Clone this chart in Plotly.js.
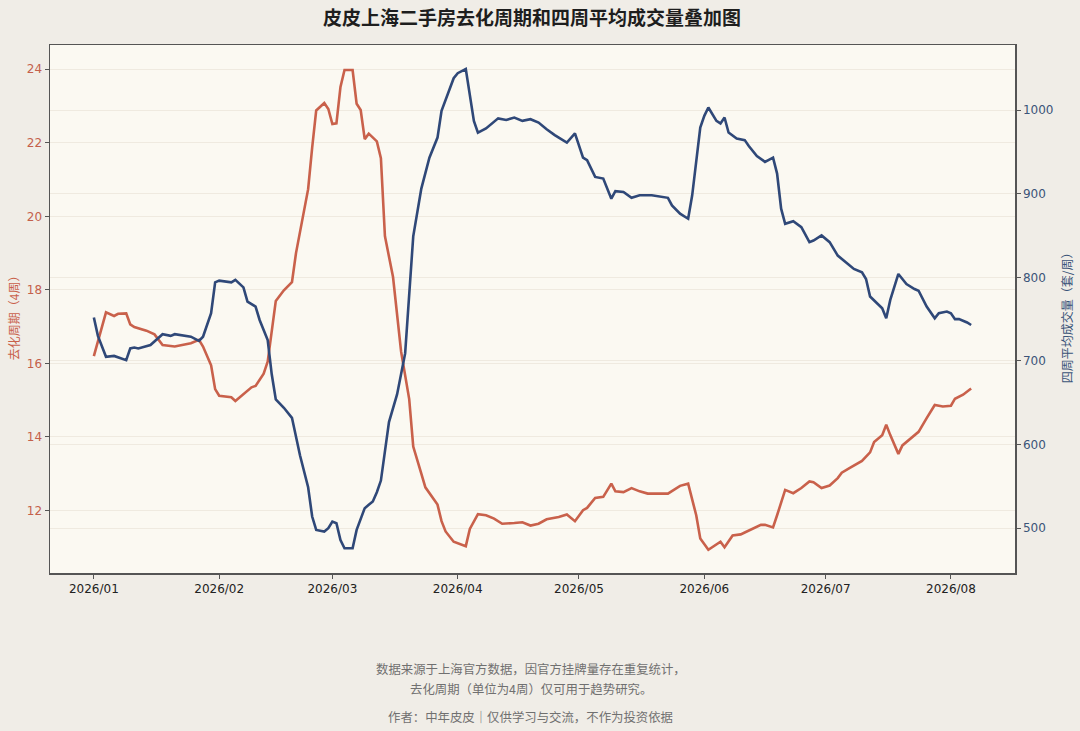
<!DOCTYPE html>
<html>
<head>
<meta charset="utf-8">
<script src="https://cdn.plot.ly/plotly-3.0.1.min.js"></script>
<style>
  html, body { margin: 0; padding: 0; background: #f0ede7; }
  #chart { width: 1080px; height: 731px; }
</style>
</head>
<body>
<div id="chart"></div>
<script>
// 去化周期（4周）
const cycleDates = [
  '2026-01-01','2026-01-04','2026-01-06','2026-01-07','2026-01-09','2026-01-10','2026-01-11','2026-01-14',
  '2026-01-16','2026-01-18','2026-01-21','2026-01-25','2026-01-27','2026-01-28','2026-01-30','2026-01-31',
  '2026-02-01','2026-02-04','2026-02-05','2026-02-07','2026-02-09','2026-02-10','2026-02-12','2026-02-13',
  '2026-02-14','2026-02-15','2026-02-17','2026-02-19','2026-02-20','2026-02-23','2026-02-24','2026-02-25',
  '2026-02-27','2026-02-28','2026-03-01','2026-03-02','2026-03-03','2026-03-04','2026-03-06','2026-03-07',
  '2026-03-08','2026-03-09','2026-03-10','2026-03-12','2026-03-13','2026-03-14','2026-03-16','2026-03-17',
  '2026-03-18','2026-03-20','2026-03-21','2026-03-23','2026-03-24','2026-03-27','2026-03-28','2026-03-29',
  '2026-03-31','2026-04-03','2026-04-04','2026-04-06','2026-04-08','2026-04-10','2026-04-12','2026-04-15',
  '2026-04-17','2026-04-19','2026-04-21','2026-04-23','2026-04-26','2026-04-28','2026-04-30','2026-05-02',
  '2026-05-03','2026-05-05','2026-05-07','2026-05-09','2026-05-10','2026-05-12','2026-05-14','2026-05-16',
  '2026-05-18','2026-05-23','2026-05-26','2026-05-28','2026-05-30','2026-05-31','2026-06-02','2026-06-05',
  '2026-06-06','2026-06-08','2026-06-10','2026-06-11','2026-06-13','2026-06-15','2026-06-16','2026-06-18',
  '2026-06-19','2026-06-21','2026-06-23','2026-06-25','2026-06-27','2026-06-28','2026-06-30','2026-07-02',
  '2026-07-04','2026-07-05','2026-07-07','2026-07-10','2026-07-12','2026-07-13','2026-07-15','2026-07-16',
  '2026-07-17','2026-07-19','2026-07-20','2026-07-22','2026-07-24','2026-07-26','2026-07-28','2026-07-30',
  '2026-08-01','2026-08-02','2026-08-04','2026-08-06'
];
const cycleValues = [
  16.2, 17.39, 17.29, 17.35, 17.36, 17.06, 16.99, 16.89,
  16.79, 16.5, 16.46, 16.55, 16.64, 16.46, 15.95, 15.3,
  15.12, 15.08, 14.98, 15.16, 15.35, 15.39, 15.72, 16.05,
  16.88, 17.7, 17.99, 18.21, 19.0, 20.74, 21.87, 22.88,
  23.08, 22.92, 22.51, 22.53, 23.52, 23.98, 23.98, 23.06,
  22.89, 22.1, 22.25, 22.04, 21.58, 19.46, 18.35, 17.33,
  16.32, 15.03, 13.74, 13.0, 12.63, 12.16, 11.71, 11.43,
  11.15, 11.03, 11.5, 11.9, 11.87, 11.78, 11.64, 11.66,
  11.68, 11.59, 11.64, 11.76, 11.82, 11.89, 11.71, 12.01,
  12.07, 12.34, 12.37, 12.73, 12.52, 12.5, 12.61, 12.52,
  12.46, 12.46, 12.67, 12.73, 11.87, 11.24, 10.93, 11.15,
  11.0, 11.32, 11.35, 11.4, 11.5, 11.61, 11.61, 11.54,
  11.87, 12.56, 12.47, 12.61, 12.79, 12.77, 12.61, 12.68,
  12.88, 13.03, 13.16, 13.35, 13.58, 13.86, 14.05, 14.33,
  14.05, 13.54, 13.77, 13.95, 14.14, 14.51, 14.87, 14.83,
  14.85, 15.04, 15.15, 15.32
];

// 四周平均成交量（套/周）
const volumeDates = [
  '2026-01-01','2026-01-02','2026-01-04','2026-01-06','2026-01-09','2026-01-10','2026-01-11','2026-01-12',
  '2026-01-15','2026-01-16','2026-01-18','2026-01-20','2026-01-21','2026-01-25','2026-01-27','2026-01-28',
  '2026-01-30','2026-01-31','2026-02-01','2026-02-04','2026-02-05','2026-02-07','2026-02-08','2026-02-10',
  '2026-02-11','2026-02-13','2026-02-14','2026-02-15','2026-02-17','2026-02-19','2026-02-21','2026-02-23',
  '2026-02-24','2026-02-25','2026-02-27','2026-02-28','2026-03-01','2026-03-02','2026-03-03','2026-03-04',
  '2026-03-06','2026-03-07','2026-03-09','2026-03-10','2026-03-11','2026-03-12','2026-03-13','2026-03-15',
  '2026-03-17','2026-03-19','2026-03-20','2026-03-21','2026-03-23','2026-03-25','2026-03-27','2026-03-28',
  '2026-03-31','2026-04-01','2026-04-03','2026-04-05','2026-04-06','2026-04-08','2026-04-11','2026-04-13',
  '2026-04-15','2026-04-17','2026-04-19','2026-04-21','2026-04-23','2026-04-25','2026-04-28','2026-04-30',
  '2026-05-02','2026-05-03','2026-05-05','2026-05-07','2026-05-09','2026-05-10','2026-05-12','2026-05-14',
  '2026-05-16','2026-05-19','2026-05-23','2026-05-24','2026-05-26','2026-05-28','2026-05-29','2026-05-31',
  '2026-06-01','2026-06-02','2026-06-04','2026-06-05','2026-06-06','2026-06-07','2026-06-09','2026-06-11',
  '2026-06-12','2026-06-14','2026-06-16','2026-06-18','2026-06-19','2026-06-20','2026-06-21','2026-06-23',
  '2026-06-25','2026-06-27','2026-06-28','2026-06-30','2026-07-02','2026-07-04','2026-07-06','2026-07-08',
  '2026-07-10','2026-07-11','2026-07-12','2026-07-15','2026-07-16','2026-07-17','2026-07-19','2026-07-21',
  '2026-07-23','2026-07-24','2026-07-26','2026-07-28','2026-07-29','2026-07-31','2026-08-01','2026-08-02',
  '2026-08-03','2026-08-05','2026-08-06'
];
const volumeValues = [
  752, 730, 705, 706, 701, 715, 716, 715,
  719, 723, 732, 730, 732, 729, 724, 729,
  757, 794, 796, 794, 797, 788, 771, 765,
  749, 725, 684, 654, 644, 632, 587, 549,
  514, 498, 496, 500, 508, 506, 486, 476,
  476, 498, 524, 528, 532, 543, 557, 627,
  660, 709, 777, 849, 906, 943, 967, 999,
  1038, 1044, 1049, 987, 973, 978, 990, 988,
  991, 987, 989, 985, 977, 970, 961, 972,
  943, 940, 920, 918, 894, 903, 902, 895,
  898, 898, 895, 886, 876, 870, 898, 979,
  993, 1003, 987, 984, 991, 973, 966, 964,
  957, 945, 938, 943, 924, 882, 864, 867,
  860, 842, 844, 850, 842, 826, 818, 810,
  806, 798, 777, 763, 751, 773, 804, 792,
  786, 784, 765, 751, 757, 759, 757, 750,
  750, 746, 743
];

const titleText = '皮皮上海二手房去化周期和四周平均成交量叠加图';
const leftAxisTitle = '去化周期（4周）';
const rightAxisTitle = '四周平均成交量（套/周）';
const noteLines = [
  '数据来源于上海官方数据，因官方挂牌量存在重复统计，',
  '去化周期（单位为4周）仅可用于趋势研究。',
  '作者：中年皮皮｜仅供学习与交流，不作为投资依据'
];
const leftTicks = [12, 14, 16, 18, 20, 22, 24];
const rightTicks = [500, 600, 700, 800, 900, 1000];

const RED = '#c9614b';
const BLUE = '#2f4878';
const CJK = '"Noto Sans CJK SC", "DejaVu Sans", sans-serif';
const TICKF = '"DejaVu Sans", sans-serif';

const traces = [
  {
    x: cycleDates, y: cycleValues, type: 'scatter', mode: 'lines',
    line: { color: RED, width: 2.6 }, name: leftAxisTitle, yaxis: 'y', hoverinfo: 'x+y'
  },
  {
    x: volumeDates, y: volumeValues, type: 'scatter', mode: 'lines',
    line: { color: BLUE, width: 2.6 }, name: rightAxisTitle, yaxis: 'y2', hoverinfo: 'x+y'
  }
];

const layout = {
  width: 1080, height: 731,
  paper_bgcolor: '#f0ede7',
  plot_bgcolor: '#fbf9f2',
  showlegend: false,
  margin: { l: 50, r: 65, t: 45, b: 158 },
  title: {
    text: '<b>' + titleText + '</b>',
    font: { family: CJK, size: 19, color: '#1e1e1e' },
    x: 0.4926, xanchor: 'center', y: 0.9754, yanchor: 'middle'
  },
  xaxis: {
    type: 'date',
    range: ['2025-12-21 03:36', '2026-08-16 20:24'],
    tick0: '2026-01-01', dtick: 'M1', tickformat: '%Y/%m',
    showgrid: false, zeroline: false,
    showline: true, mirror: true, linecolor: '#555555', linewidth: 1.5,
    ticks: 'outside', ticklen: 4, tickcolor: '#555555', tickwidth: 1,
    tickfont: { family: TICKF, size: 12, color: '#222222' }
  },
  yaxis: {
    range: [10.3, 24.66],
    tickvals: leftTicks, ticktext: leftTicks.map(String),
    showgrid: true, gridcolor: '#efeae0', gridwidth: 1, zeroline: false,
    showline: true, linecolor: '#555555', linewidth: 1.5,
    ticks: 'outside', ticklen: 4, tickcolor: '#555555',
    tickfont: { family: TICKF, size: 12, color: '#c4604b' }
  },
  yaxis2: {
    overlaying: 'y', side: 'right',
    range: [446.5, 1077.7],
    tickvals: rightTicks, ticktext: rightTicks.map(String),
    showgrid: true, gridcolor: '#efeae0', gridwidth: 1, zeroline: false,
    showline: true, linecolor: '#555555', linewidth: 1.5,
    ticks: 'outside', ticklen: 4, tickcolor: '#555555',
    tickfont: { family: TICKF, size: 12, color: '#3b5479' }
  },
  annotations: [
    { text: leftAxisTitle, xref: 'paper', yref: 'paper', x: -0.0385, y: 0.49,
      xanchor: 'center', yanchor: 'middle', textangle: -90, showarrow: false,
      font: { family: CJK, size: 12, color: RED } },
    { text: rightAxisTitle, xref: 'paper', yref: 'paper', x: 1.0528, y: 0.49,
      xanchor: 'center', yanchor: 'middle', textangle: -90, showarrow: false,
      font: { family: CJK, size: 12, color: '#3b5479' } },
    { text: noteLines[0], xref: 'paper', yref: 'paper', x: 0.4984, y: -0.1818,
      xanchor: 'center', yanchor: 'middle', showarrow: false,
      font: { family: CJK, size: 12.4, color: '#707070' } },
    { text: noteLines[1], xref: 'paper', yref: 'paper', x: 0.4984, y: -0.2197,
      xanchor: 'center', yanchor: 'middle', showarrow: false,
      font: { family: CJK, size: 12.4, color: '#707070' } },
    { text: noteLines[2], xref: 'paper', yref: 'paper', x: 0.4984, y: -0.2727,
      xanchor: 'center', yanchor: 'middle', showarrow: false,
      font: { family: CJK, size: 12.4, color: '#707070' } }
  ]
};

Plotly.newPlot('chart', traces, layout, { displayModeBar: false, staticPlot: true });
</script>
</body>
</html>
